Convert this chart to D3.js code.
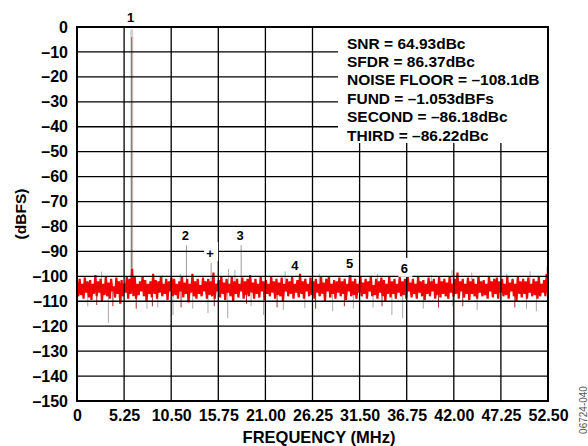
<!DOCTYPE html>
<html><head><meta charset="utf-8">
<script src="https://cdn.jsdelivr.net/npm/d3@7"></script>
<style>
html,body{margin:0;padding:0;background:#fff;}
svg{display:block;font-family:"Liberation Sans",Arial,sans-serif;font-weight:bold;}
</style></head><body>
<svg id="c" width="588" height="446"></svg>
<script>
// ---- data ----
const freqTicks = [0, 5.25, 10.5, 15.75, 21, 26.25, 31.5, 36.75, 42, 47.25, 52.5];
const dbTicks = [0, -10, -20, -30, -40, -50, -60, -70, -80, -90, -100, -110, -120, -130, -140, -150];
const statLines = ["SNR = 64.93dBc", "SFDR = 86.37dBc", "NOISE FLOOR = \u2013108.1dB",
  "FUND = \u20131.053dBFs", "SECOND = \u201386.18dBc", "THIRD = \u201386.22dBc"];
const markerLabels = ["1", "2", "3", "+", "4", "5", "6"];
const markerFreqs = [6.1, 12.2, 18.3, 14.95, 24.4, 30.5, 36.6];
const markerDb = [-1.05, -87.6, -87.5, -94.7, -99.5, -99, -101];
const noiseBase = -105;
const greySpikeFreqs = [3.5, 10.7, 14.6, 16.8, 20.8, 25.4, 28.5, 30.8, 35.1, 36.3, 38.6, 41.9, 44.6, 47.2, 50.1, 51.2, 1.2, 7.8, 9.0, 12.9, 19.4, 23.0, 33.0,
  2.75, 16.9, 17.6, 23.2, 30.6, 41.8, 47.9, 50.5, 52.4, 0.8, 9.5, 11.5, 27.0, 33.5, 39.5, 44.0];
const greySpikeDb = [-118.6, -115.5, -114.7, -116.8, -115.5, -112.7, -114, -113, -115.5, -116.8, -113, -112, -113.5, -113, -113, -114, -112, -113, -112.5, -113, -112, -113.5, -112.5,
  -98.1, -97, -97.5, -98, -99.5, -97.5, -99, -98, -96, -100, -99.5, -99, -99, -99, -99.5, -98.5];
const darkSpikeFreqs = [4.0, 6.6, 11.6, 15.3, 22.3, 26.6, 29.8, 34.0, 40.3, 43.0, 48.8, 2.2, 8.4, 18.9];
const darkSpikeDb = [-112, -113, -112.5, -112, -112.5, -113, -112, -112, -112.5, -112, -112.5, -111.5, -112, -111];
const noiseDb = [
-102.5,-108,-101,-107.5,-103,-109,-100.5,-106.5,-102,-108.5,-101.5,-109.5,-103,-107,-99.5,-108,-102,-106.5,-101,-110,
-103,-107.5,-100,-108,-102.5,-109,-101,-106,-104,-108.5,-100.5,-107,-102,-111,-101.5,-108,-103,-106.5,-100,-109,
-101,-107,-97,-108,-100,-109,-103,-107.5,-102,-106,-100,-108,-101.5,-110,-103,-107,-102,-108.5,-99,-107,
-101.5,-109,-102,-106.5,-100,-108,-103,-107,-101,-109.5,-102,-106,-100.5,-108,-101,-107.5,-103,-109,-102,-106,
-100,-108.5,-102.5,-107,-101,-110.5,-103,-106.5,-99,-108,-102,-109,-101,-107,-103.5,-108,-100.5,-106,-102,-109,
-101,-107.5,-102,-108,-98.5,-109,-103,-106,-101.5,-108.5,-100,-107,-102.5,-109.5,-101,-106.5,-103,-108,-100,-110,
-102,-107,-101,-108.5,-103,-106,-100.5,-109,-102,-107.5,-101,-108,-99.5,-106.5,-102.5,-109,-101,-107,-103,-108.5,
-100,-106,-102,-109.5,-101.5,-107,-103,-108,-100,-106.5,-102,-109,-101,-107.5,-102.5,-108,-100.5,-110,-103,-106,
-101,-108,-102,-107,-100,-109,-103,-106.5,-101.5,-108.5,-99,-107,-102,-109,-101,-106,-103,-108,-100.5,-107.5,
-102,-109,-101,-106.5,-103,-108,-100,-107,-102.5,-110,-101,-106,-100,-108.5,-103,-107,-101.5,-109,-102,-106.5,
-100.5,-108,-102,-107,-101,-109.5,-103,-106,-99.5,-108,-102,-107.5,-101,-109,-103,-106.5,-100,-108,-102.5,-107,
-101,-109,-102,-106,-100,-108,-103.5,-107.5,-101,-109,-102,-106.5,-100.5,-108,-101.5,-110,-103,-107,-100,-108.5,
-102,-107,-101,-109,-103,-106.5,-100,-108,-102,-107.5,-101,-109,-99,-106,-102.5,-108.5,-101,-107,-103,-109,
-100,-106.5,-102,-108,-101.5,-109.5,-103,-107,-100.5,-108,-102,-106,-101,-109,-103,-107.5,-100,-108.5,-102,-107,
-101,-108,-102.5,-109,-100,-106.5,-103,-108,-101,-107,-98.5,-109,-102,-106,-101,-108.5,-103,-107,-100.5,-109.5,
-102,-107,-101,-108,-103,-109,-100,-106.5,-102,-108,-101.5,-107.5,-103,-109,-100,-106,-102,-108.5,-101,-107,
-100.5,-109,-102,-106.5,-101,-108,-103,-107.5,-100,-109,-102.5,-106,-101,-108,-103,-110,-100,-107,-102,-108.5,
-101,-107,-102,-109,-100.5,-106.5,-103,-108,-101,-107.5,-102,-109,-100,-108,-103,-106.5,-101.5,-108,-99,-107
];
const fMax = 52.5;

// ---- chart ----
const svg = d3.select("#c");
const L = 77, R = 548, T = 27, B = 401;
const x = d3.scaleLinear().domain([0, fMax]).range([L, R]);
const y = d3.scaleLinear().domain([0, -150]).range([T, B]);
const binF = i => i * fMax / (noiseDb.length - 1);

const plot = svg.append("g");
// grey spikes
plot.selectAll("line.gs").data(greySpikeFreqs).join("line")
  .attr("x1", d => x(d)).attr("x2", d => x(d))
  .attr("y1", y(noiseBase)).attr("y2", (d, i) => y(greySpikeDb[i]))
  .attr("stroke", "#a8a8a8").attr("stroke-width", 1);
plot.selectAll("line.ds").data(darkSpikeFreqs).join("line")
  .attr("x1", d => x(d)).attr("x2", d => x(d))
  .attr("y1", y(noiseBase)).attr("y2", (d, i) => y(darkSpikeDb[i]))
  .attr("stroke", "#a52a2a").attr("stroke-width", 1);
// harmonic spikes (grey)
const spikes = markerFreqs.map((f, i) => ({f, db: markerDb[i], label: markerLabels[i]}));
plot.selectAll("line.h").data(spikes.slice(1, 4)).join("line")
  .attr("x1", d => x(d.f)).attr("x2", d => x(d.f))
  .attr("y1", y(noiseBase)).attr("y2", d => y(d.db))
  .attr("stroke", "#9a9a9a").attr("stroke-width", 1);
// fundamental
plot.append("line").attr("x1", x(spikes[0].f)).attr("x2", x(spikes[0].f))
  .attr("y1", y(noiseBase)).attr("y2", y(spikes[0].db))
  .attr("stroke", "#d0d0d0").attr("stroke-width", 3);
plot.append("line").attr("x1", x(spikes[0].f)).attr("x2", x(spikes[0].f))
  .attr("y1", y(noiseBase)).attr("y2", y(spikes[0].db - 3))
  .attr("stroke", "#b05050").attr("stroke-width", 1);
// noise trace
plot.append("path").datum(noiseDb)
  .attr("d", d3.line().x((d, i) => x(binF(i))).y(d => y(d)))
  .attr("fill", "none").attr("stroke", "#f20000").attr("stroke-width", 2.2)
  .attr("stroke-linejoin", "miter");

// grid
const grid = svg.append("g").attr("stroke", "#000").attr("stroke-width", 1.3);
grid.selectAll("line.v").data(freqTicks.slice(1, -1)).join("line")
  .attr("x1", d => x(d)).attr("x2", d => x(d)).attr("y1", T).attr("y2", B);
grid.selectAll("line.hz").data(dbTicks.slice(1, -1)).join("line")
  .attr("x1", L).attr("x2", R).attr("y1", d => y(d)).attr("y2", d => y(d));
svg.append("rect").attr("x", L).attr("y", T).attr("width", R - L).attr("height", B - T)
  .attr("fill", "none").attr("stroke", "#000").attr("stroke-width", 2);

// annotation box
svg.append("rect").attr("x", 338).attr("y", T + 1).attr("width", R - 1 - 338).attr("height", 115)
  .attr("fill", "#fff");
svg.append("g").selectAll("text").data(statLines).join("text")
  .attr("x", 347).attr("y", (d, i) => 48.5 + i * 18.4)
  .attr("font-size", 15.5).attr("fill", "#000").text(d => d);

// marker labels
const lab = svg.append("g");
const boxed = new Set(["+", "6"]);
lab.selectAll("rect").data(spikes.filter(d => boxed.has(d.label))).join("rect")
  .attr("x", d => x(d.f) - 7).attr("y", d => y(d.db) - 21).attr("width", 14).attr("height", 19)
  .attr("fill", "#fff");
lab.selectAll("text").data(spikes).join("text")
  .attr("x", d => x(d.f) - 1).attr("y", (d, i) => y(d.db) - (i === 0 ? 12 : 10))
  .attr("dy", "0.35em").attr("text-anchor", "middle").attr("font-size", 13).text(d => d.label);

// axes
const yAxis = svg.append("g").attr("transform", `translate(${L},0)`)
  .call(d3.axisLeft(y).tickValues(dbTicks).tickSize(0).tickPadding(9)
    .tickFormat(d => d === 0 ? "0" : "\u2013" + Math.abs(d)));
yAxis.select(".domain").remove();
yAxis.selectAll("text").attr("font-size", 16).attr("font-family", "Liberation Sans, Arial").attr("font-weight", "bold").attr("fill", "#000");
const xAxis = svg.append("g").attr("transform", `translate(0,${B})`)
  .call(d3.axisBottom(x).tickValues(freqTicks).tickSize(0).tickPadding(9)
    .tickFormat(d => d === 0 ? "0" : d3.format(".2f")(d)));
xAxis.select(".domain").remove();
xAxis.selectAll("text").attr("font-size", 16).attr("font-family", "Liberation Sans, Arial").attr("font-weight", "bold").attr("fill", "#000");

svg.append("text").attr("x", 319).attr("y", 443).attr("text-anchor", "middle")
  .attr("font-size", 16.5).text("FREQUENCY (MHz)");
svg.append("text").attr("transform", "translate(26,214) rotate(-90)").attr("text-anchor", "middle")
  .attr("font-size", 15.5).text("(dBFS)");
svg.append("text").attr("transform", "translate(587,410) rotate(-90)").attr("text-anchor", "middle")
  .attr("font-size", 10).attr("font-weight", "normal").attr("fill", "#555").text("06724-040");
</script></body></html>
